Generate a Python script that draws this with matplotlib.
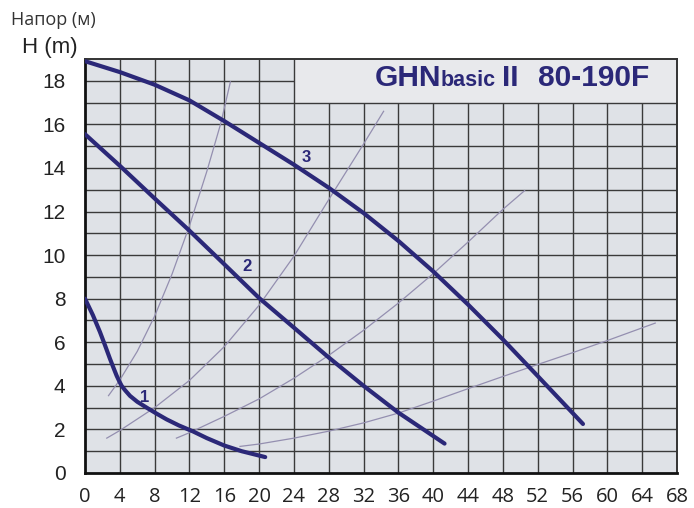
import numpy as np
import matplotlib
matplotlib.use('Agg')
import matplotlib.pyplot as plt

# Curvas del catalogo (Q en m3/h, H en m)
q1 = [0, 0.9, 1.72, 2.3, 2.87, 3.3, 3.64, 3.95, 4.21, 4.6, 5.17, 6, 7.08, 8.2, 9.38, 10.8, 12.4, 14, 16, 18, 20.7]
h1 = [8.0, 7.25, 6.47, 5.86, 5.24, 4.8, 4.46, 4.2, 4.0, 3.8, 3.54, 3.27, 3.0, 2.73, 2.46, 2.18, 1.91, 1.6, 1.26, 1.0, 0.73]
q2 = [0, 4, 8, 12, 16, 20, 24, 28, 32, 36, 41.3]
h2 = [15.55, 14.1, 12.6, 11.12, 9.58, 8.03, 6.67, 5.3, 4.0, 2.77, 1.35]
q3 = [0, 4, 8, 12, 16, 20, 24, 28, 32, 36, 40, 44, 48, 52, 57.2]
h3 = [18.9, 18.4, 17.82, 17.1, 16.15, 15.15, 14.15, 13.09, 11.93, 10.65, 9.25, 7.73, 6.13, 4.45, 2.25]

# Curvas del sistema (lineas delgadas)
qa = [2.7, 4, 6, 8, 10, 12, 14, 15.6, 16.7]
ha = [3.55, 4.27, 5.58, 7.2, 9.13, 11.35, 13.85, 16.05, 17.95]
qb = [2.5, 4, 8, 12, 16, 20, 24, 28, 32, 34.3]
hb = [1.6, 1.95, 3.0, 4.25, 5.8, 7.7, 9.95, 12.55, 15.1, 16.6]
qc = [10.5, 12, 16, 20, 24, 28, 32, 36, 40, 44, 48, 50.5]
hc = [1.6, 1.85, 2.6, 3.4, 4.35, 5.4, 6.55, 7.8, 9.15, 10.6, 12.1, 12.96]
qd = [17.8, 20, 24, 28, 32, 36, 40, 44, 48, 52, 56, 60, 65.5]
hd = [1.22, 1.33, 1.6, 1.92, 2.3, 2.75, 3.3, 3.87, 4.43, 4.98, 5.52, 6.08, 6.88]

etiquetas = ['1', '2', '3']
pos_etiq = [(6.9, 3.47), (18.57, 9.49), (25.46, 14.5)]

xticks = np.arange(0, 69, 4)
yticks = np.arange(0, 19, 2)

AZUL = '#2b2878'
DELGADA = '#948fb0'
REJILLA = '#3a3a3a'
FONDO = '#dfe2e7'

fig = plt.figure(figsize=(6.94, 5.08), dpi=100)
ax = fig.add_axes([85/694, 35/508, 592/694, 414/508])
ax.set_xlim(0, 68); ax.set_ylim(0, 19)
ax.set_facecolor(FONDO)

# Rejilla (con hueco para el recuadro del titulo)
ax.add_patch(plt.Rectangle((24, 17), 44, 2, color='#e8e9ec', zorder=0.5, lw=0))
for xv in range(4, 68, 4):
    ax.vlines(xv, 0, 19 if xv <= 24 else 17, color=REJILLA, lw=1.0, zorder=1)
for yv in range(1, 19):
    ax.hlines(yv, 0, 68 if yv <= 17 else 24, color=REJILLA, lw=1.0, zorder=1)

for q, h in [(qa, ha), (qb, hb), (qc, hc), (qd, hd)]:
    ax.plot(q, h, '-', color=DELGADA, lw=0.9, zorder=2)
for q, h in [(q1, h1), (q2, h2), (q3, h3)]:
    ax.plot(q, h, '-', color=AZUL, lw=3.0, zorder=3, solid_capstyle='round', solid_joinstyle='round')

for t, (x, y) in zip(etiquetas, pos_etiq):
    ax.text(x, y, t, color=AZUL, fontsize=12, fontweight='bold', ha='center', va='center',
            family='Liberation Sans', zorder=4)

# Titulo
ax.text(33.3, 17.75, 'GHN', color=AZUL, fontsize=21.5, fontweight='bold', family='Liberation Sans', va='baseline', zorder=4)
ax.text(40.9, 17.75, 'basic', color=AZUL, fontsize=15.5, fontweight='bold', family='Liberation Sans', va='baseline', zorder=4)
ax.text(47.9, 17.75, 'II', color=AZUL, fontsize=21.5, fontweight='bold', family='Liberation Sans', va='baseline', zorder=4)
ax.text(52.0, 17.75, '80-190F', color=AZUL, fontsize=21.5, fontweight='bold', family='Liberation Sans', va='baseline', zorder=4)

ax.set_xticks(xticks); ax.set_yticks(yticks)
ax.tick_params(length=0)
ax.tick_params(axis='x', pad=10)
ax.tick_params(axis='y', pad=14)
for lab in ax.get_xticklabels():
    lab.set_family('Open Sans'); lab.set_fontsize(14.5); lab.set_color('#222222')
for lab in ax.get_yticklabels():
    lab.set_family('Liberation Sans'); lab.set_fontsize(15); lab.set_color('#222222')

for s in ['left', 'bottom']:
    ax.spines[s].set_linewidth(2.0); ax.spines[s].set_color('#111111')
for s in ['top', 'right']:
    ax.spines[s].set_linewidth(1.4); ax.spines[s].set_color('#333333')

fig.text(22/694, 1 - 48/508, 'H (m)', family='Liberation Sans', fontsize=16, color='#222222', va='center')
fig.text(11/694, 1 - 20/508, 'Напор (м)', family='Open Sans', fontsize=13, color='#333333', va='center')

fig.savefig('out.png', dpi=100)
